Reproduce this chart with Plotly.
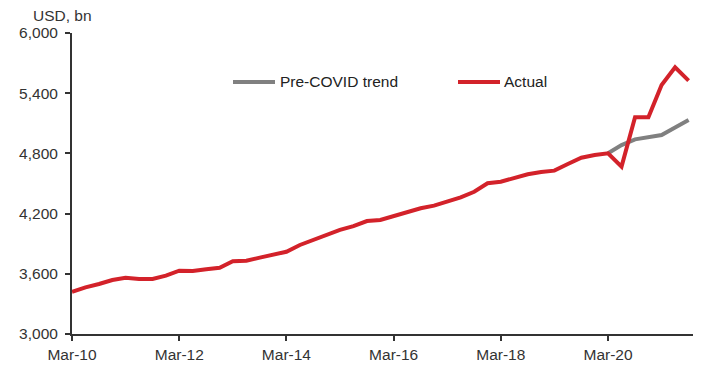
import plotly.graph_objects as go

# Quarterly dates
dates_actual = [
    "2010-03-01", "2010-06-01", "2010-09-01", "2010-12-01",
    "2011-03-01", "2011-06-01", "2011-09-01", "2011-12-01",
    "2012-03-01", "2012-06-01", "2012-09-01", "2012-12-01",
    "2013-03-01", "2013-06-01", "2013-09-01", "2013-12-01",
    "2014-03-01", "2014-06-01", "2014-09-01", "2014-12-01",
    "2015-03-01", "2015-06-01", "2015-09-01", "2015-12-01",
    "2016-03-01", "2016-06-01", "2016-09-01", "2016-12-01",
    "2017-03-01", "2017-06-01", "2017-09-01", "2017-12-01",
    "2018-03-01", "2018-06-01", "2018-09-01", "2018-12-01",
    "2019-03-01", "2019-06-01", "2019-09-01", "2019-12-01",
    "2020-03-01", "2020-06-01", "2020-09-01", "2020-12-01",
    "2021-03-01", "2021-06-01", "2021-09-01",
]
actual = [
    3421, 3465, 3498, 3538,
    3561, 3548, 3548, 3581,
    3631, 3628, 3645, 3661,
    3725, 3731, 3761, 3787,
    3820, 3887, 3937, 3993,
    4037, 4075, 4126, 4136,
    4176, 4213, 4253, 4279,
    4319, 4362, 4418, 4502,
    4518, 4558, 4592, 4615,
    4628, 4694, 4757, 4784,
    4801, 4668, 5160, 5160,
    5482, 5658, 5525,
]

dates_trend = ["2020-03-01", "2020-06-01", "2020-09-01", "2020-12-01",
               "2021-03-01", "2021-06-01", "2021-09-01"]
trend = [4801, 4883, 4940, 4966, 4983, 5059, 5133]

series_names = ["Pre-COVID trend", "Actual"]

x_tickvals = ["2010-03-01", "2012-03-01", "2014-03-01", "2016-03-01",
              "2018-03-01", "2020-03-01"]
x_ticktext = ["Mar-10", "Mar-12", "Mar-14", "Mar-16", "Mar-18", "Mar-20"]
y_tickvals = [3000, 3600, 4200, 4800, 5400, 6000]
y_ticktext = ["3,000", "3,600", "4,200", "4,800", "5,400", "6,000"]

RED = "#D3222A"
GRAY = "#808080"
TXT = "#333333"
FONT = "Liberation Sans, Arial, sans-serif"
FS = 15.5

fig = go.Figure()
fig.add_trace(go.Scatter(x=dates_trend, y=trend, mode="lines", name=series_names[0],
                         line=dict(color=GRAY, width=4), showlegend=False))
fig.add_trace(go.Scatter(x=dates_actual, y=actual, mode="lines", name=series_names[1],
                         line=dict(color=RED, width=4), showlegend=False))

# Manual legend (layout positions in paper coordinates)
W = 621.0
H = 301.0
def px(x):
    return (x - 72) / W
def py(y):
    return (334 - y) / H

legend_items = [(series_names[0], GRAY, 233, 275, 278), (series_names[1], RED, 458, 500, 502)]
shapes = []
annotations = []
for name, col, x0, x1, xt in legend_items:
    shapes.append(dict(type="line", xref="paper", yref="paper",
                       x0=px(x0), x1=px(x1), y0=py(82), y1=py(82),
                       line=dict(color=col, width=4)))
    annotations.append(dict(text=name, xref="paper", yref="paper", x=px(xt), y=py(82),
                            xanchor="left", yanchor="middle", showarrow=False,
                            font=dict(family=FONT, size=FS, color="#222222")))

annotations.append(dict(text="USD, bn", xref="paper", yref="paper",
                        x=px(31), y=py(15), xanchor="left", yanchor="middle",
                        showarrow=False, font=dict(family=FONT, size=FS, color=TXT)))

fig.update_layout(
    width=719, height=379,
    margin=dict(l=72, r=26, t=33, b=45),
    paper_bgcolor="white", plot_bgcolor="white",
    font=dict(family=FONT, size=FS, color=TXT),
    showlegend=False,
    shapes=shapes,
    annotations=annotations,
    xaxis=dict(type="date", range=["2010-03-01", "2021-10-01"],
               tickvals=x_tickvals, ticktext=x_ticktext,
               showgrid=False, zeroline=False, showline=True,
               linecolor="#333333", linewidth=2,
               ticks="outside", ticklen=5, tickwidth=2, tickcolor="#333333",
               tickfont=dict(family=FONT, size=FS, color=TXT)),
    yaxis=dict(range=[3000, 6000], tickvals=y_tickvals, ticktext=y_ticktext,
               showgrid=False, zeroline=False, showline=True,
               linecolor="#333333", linewidth=2,
               ticks="outside", ticklen=5, tickwidth=2, tickcolor="#333333",
               ticklabelstandoff=4,
               tickfont=dict(family=FONT, size=FS, color=TXT)),
)

fig.write_html("out.html")
